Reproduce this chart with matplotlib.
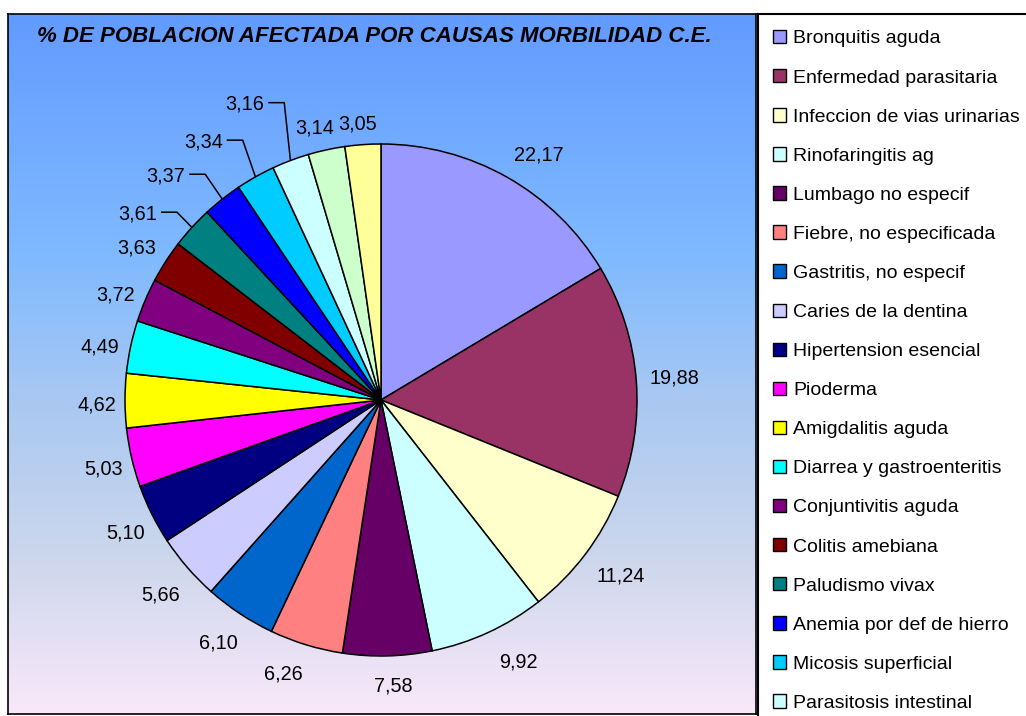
import numpy as np
import matplotlib
matplotlib.use("Agg")
import matplotlib.pyplot as plt
from matplotlib.patches import Rectangle, Patch

plt.rcParams['font.family'] = ['Liberation Sans', 'DejaVu Sans']

# ---------------- data ----------------
title = "% DE POBLACION AFECTADA POR CAUSAS MORBILIDAD C.E."
# legend names visible in the chart (the last two slices' names are cut off)
categories = [
    "Bronquitis aguda", "Enfermedad parasitaria", "Infeccion de vias urinarias",
    "Rinofaringitis ag", "Lumbago no especif", "Fiebre, no especificada",
    "Gastritis, no especif", "Caries de la dentina", "Hipertension esencial",
    "Pioderma", "Amigdalitis aguda", "Diarrea y gastroenteritis",
    "Conjuntivitis aguda", "Colitis amebiana", "Paludismo vivax",
    "Anemia por def de hierro", "Micosis superficial", "Parasitosis intestinal",
]
values = [22.17, 19.88, 11.24, 9.92, 7.58, 6.26, 6.10, 5.66, 5.10, 5.03,
          4.62, 4.49, 3.72, 3.63, 3.61, 3.37, 3.34, 3.16, 3.14, 3.05]
colors = ['#9999FF', '#993366', '#FFFFCC', '#CCFFFF', '#660066', '#FF8080',
          '#0066CC', '#CCCCFF', '#000080', '#FF00FF', '#FFFF00', '#00FFFF',
          '#800080', '#800000', '#008080', '#0000FF', '#00CCFF', '#CCFFFF',
          '#CCFFCC', '#FFFF99']
value_labels = [f"{v:.2f}".replace('.', ',') for v in values]

# ---------------- layout / style ----------------
W, H = 1026, 716
CX, CY, R = 381, H - 400, 256          # pie centre / radius in pixels
LABEL_D = 289                          # label centre distance from pie centre (px)
LABEL_FS = 14.3
# fine nudges of label centres (px, image coords: +x right, +y down)
label_nudge = {0: (15, 5), 1: (5, -1), 2: (9, 0), 3: (16, -2), 4: (5, -5),
               5: (-13, -4), 6: (-3, 0), 7: (-2, 4), 8: (3, 2), 9: (4, 2),
               10: (5, 3), 11: (2, 5), 12: (1, 6), 13: (-1, 3),
               18: (-5, 9), 19: (-3, 11)}
# labels moved away with leader lines
leader_nudge = {14: (-30, 7), 15: (-36, 1), 16: (-36, -8), 17: (-34, -27)}

grad_y = [0.0, 0.35, 0.55, 0.78, 1.0]   # fraction from top
grad_c = [(98, 155, 255), (128, 186, 255), (168, 200, 242),
          (205, 215, 236), (250, 232, 250)]

fig = plt.figure(figsize=(W / 100, H / 100), dpi=100)
fig.patch.set_facecolor('white')

# gradient plot area
bg = fig.add_axes([8 / W, (H - 714) / H, 748 / W, 700 / H])
ys = np.linspace(0, 1, 400)
img = np.stack([np.interp(ys, grad_y, [c[k] for c in grad_c]) for k in range(3)], axis=-1) / 255.0
bg.imshow(img[:, None, :], aspect='auto', extent=[0, 1, 0, 1], origin='upper')
bg.set_xticks([]); bg.set_yticks([])
for sp in bg.spines.values():
    sp.set_color('black'); sp.set_linewidth(1.2)

# legend box
fig.add_artist(Rectangle((758 / W, -0.05), 0.5, (H - 14) / H + 0.05,
                         transform=fig.transFigure, facecolor='white',
                         edgecolor='black', linewidth=1.5, zorder=1))

# pie
ax = fig.add_axes([0, 0, 1, 1])
ax.patch.set_alpha(0)
wedges, _ = ax.pie(values, colors=colors, startangle=90, counterclock=False,
                   radius=R, center=(CX, CY),
                   wedgeprops=dict(edgecolor='black', linewidth=1.1))
ax.set_xlim(0, W); ax.set_ylim(0, H)
ax.set_aspect('auto')
ax.set_axis_off()

renderer = fig.canvas.get_renderer()
cap = 0.72 * LABEL_FS * 100 / 72
for i, (w, lab) in enumerate(zip(wedges, value_labels)):
    ang = np.deg2rad((w.theta1 + w.theta2) / 2)
    ux, uy = np.cos(ang), np.sin(ang)
    x, y = CX + LABEL_D * ux, CY + LABEL_D * uy
    t = ax.text(0, 0, lab, ha='center', va='baseline', fontsize=LABEL_FS, color='black')
    bb = t.get_window_extent(renderer)
    if i in leader_nudge:
        ox, oy = leader_nudge[i]
        x += ox; y -= oy
        x0 = x + bb.width / 2 + 4
        ax.plot([x0, x0 + 16, CX + R * ux], [y, y, CY + R * uy],
                color='black', lw=1.1, solid_capstyle='butt')
    elif i in label_nudge:
        ox, oy = label_nudge[i]
        x += ox; y -= oy
    t.set_position((x, y - cap / 2))

fig.text(374 / W, 1 - 37 / H, title, ha='center', va='center', fontsize=16,
         fontweight='bold', fontstyle='italic')

handles = [Patch(facecolor=c, edgecolor='black', linewidth=1.0) for c in colors]
fig.legend(handles[:len(categories)], categories, loc='upper left',
           bbox_to_anchor=(773 / W, 1 - 30 / H),
           frameon=False, fontsize=14, handlelength=0.68, handleheight=0.68,
           handletextpad=0.36, labelspacing=1.11, borderpad=0, borderaxespad=0)

fig.savefig('out.png', dpi=100)
